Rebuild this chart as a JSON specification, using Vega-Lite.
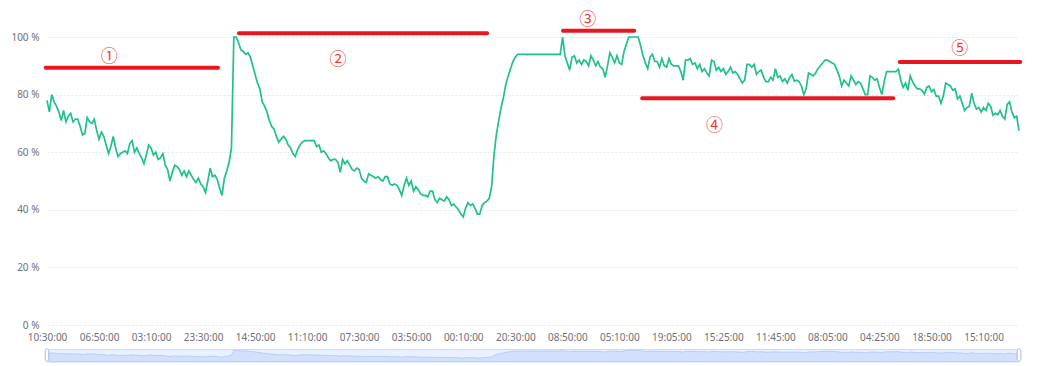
{
  "$schema": "https://vega.github.io/schema/vega-lite/v6.json",
  "background": "white",
  "padding": {"left": 10, "top": 11, "right": 5, "bottom": 5},
  "spacing": 24,
  "bounds": "flush",
  "config": {
    "view": {"stroke": null},
    "font": "Noto Sans",
    "axis": {"labelColor": "#6e7079", "labelFontSize": 10, "labelFont": "Noto Sans", "ticks": false, "domain": false, "title": null}
  },
  "datasets": {
    "main": [
      {"i":0,"v":78},{"i":1,"v":74},{"i":2,"v":80},{"i":3,"v":77.5},{"i":4,"v":76},{"i":5,"v":74},{"i":6,"v":71},{"i":7,"v":74.5},{"i":8,"v":70.5},{"i":9,"v":72.5},
      {"i":10,"v":73.5},{"i":11,"v":70.5},{"i":12,"v":71.5},{"i":13,"v":71.5},{"i":14,"v":69},{"i":15,"v":66},{"i":16,"v":66.5},{"i":17,"v":72},{"i":18,"v":70.5},{"i":19,"v":70},
      {"i":20,"v":71.5},{"i":21,"v":67.5},{"i":22,"v":64.5},{"i":23,"v":67},{"i":24,"v":65.5},{"i":25,"v":62.5},{"i":26,"v":59.5},{"i":27,"v":62},{"i":28,"v":65.5},{"i":29,"v":61.5},
      {"i":30,"v":58.5},{"i":31,"v":59.5},{"i":32,"v":60},{"i":33,"v":60.5},{"i":34,"v":59.5},{"i":35,"v":63},{"i":36,"v":64},{"i":37,"v":60},{"i":38,"v":61.5},{"i":39,"v":59.5},
      {"i":40,"v":58},{"i":41,"v":56},{"i":42,"v":59},{"i":43,"v":62.5},{"i":44,"v":61.5},{"i":45,"v":59},{"i":46,"v":60},{"i":47,"v":57.5},{"i":48,"v":58},{"i":49,"v":59.5},
      {"i":50,"v":55.5},{"i":51,"v":54},{"i":52,"v":50},{"i":53,"v":53},{"i":54,"v":55.5},{"i":55,"v":55},{"i":56,"v":54},{"i":57,"v":52},{"i":58,"v":53.5},{"i":59,"v":51.5},
      {"i":60,"v":53.5},{"i":61,"v":52},{"i":62,"v":50.5},{"i":63,"v":49.5},{"i":64,"v":51},{"i":65,"v":49},{"i":66,"v":48},{"i":67,"v":46},{"i":68,"v":50},{"i":69,"v":54.5},
      {"i":70,"v":51.5},{"i":71,"v":52},{"i":72,"v":50.5},{"i":73,"v":47.5},{"i":74,"v":45},{"i":75,"v":51},{"i":76,"v":53.5},{"i":77,"v":56.5},{"i":78,"v":61.5},{"i":79,"v":100},
      {"i":80,"v":100},{"i":81,"v":98},{"i":82,"v":95.5},{"i":83,"v":95},{"i":84,"v":94},{"i":85,"v":94.5},{"i":86,"v":93},{"i":87,"v":90},{"i":88,"v":87},{"i":89,"v":84},
      {"i":90,"v":82},{"i":91,"v":77.5},{"i":92,"v":76},{"i":93,"v":74},{"i":94,"v":71},{"i":95,"v":69},{"i":96,"v":68},{"i":97,"v":65.5},{"i":98,"v":63.5},{"i":99,"v":64.5},
      {"i":100,"v":65.5},{"i":101,"v":64.5},{"i":102,"v":62.5},{"i":103,"v":61.5},{"i":104,"v":59.5},{"i":105,"v":58.5},{"i":106,"v":61},{"i":107,"v":62.5},{"i":108,"v":63.5},{"i":109,"v":64},
      {"i":110,"v":64},{"i":111,"v":64},{"i":112,"v":64},{"i":113,"v":64},{"i":114,"v":62},{"i":115,"v":62.5},{"i":116,"v":60},{"i":117,"v":60.5},{"i":118,"v":59.5},{"i":119,"v":58},
      {"i":120,"v":57},{"i":121,"v":57.5},{"i":122,"v":57.5},{"i":123,"v":56.5},{"i":124,"v":53},{"i":125,"v":57.5},{"i":126,"v":56},{"i":127,"v":57},{"i":128,"v":55.5},{"i":129,"v":54},
      {"i":130,"v":53.5},{"i":131,"v":54.5},{"i":132,"v":54},{"i":133,"v":51},{"i":134,"v":50},{"i":135,"v":49.5},{"i":136,"v":52.5},{"i":137,"v":52},{"i":138,"v":51.5},{"i":139,"v":51},
      {"i":140,"v":51.5},{"i":141,"v":50.5},{"i":142,"v":50},{"i":143,"v":51.5},{"i":144,"v":51.5},{"i":145,"v":49},{"i":146,"v":48.5},{"i":147,"v":49},{"i":148,"v":48.5},{"i":149,"v":47},
      {"i":150,"v":45},{"i":151,"v":48.5},{"i":152,"v":51},{"i":153,"v":48.5},{"i":154,"v":50},{"i":155,"v":46.5},{"i":156,"v":48},{"i":157,"v":47},{"i":158,"v":45.5},{"i":159,"v":45},
      {"i":160,"v":45},{"i":161,"v":44.5},{"i":162,"v":46.5},{"i":163,"v":46.5},{"i":164,"v":43.5},{"i":165,"v":42.5},{"i":166,"v":44},{"i":167,"v":43.5},{"i":168,"v":43},{"i":169,"v":44.5},
      {"i":170,"v":43.5},{"i":171,"v":41.5},{"i":172,"v":42},{"i":173,"v":41},{"i":174,"v":40},{"i":175,"v":38.5},{"i":176,"v":37.5},{"i":177,"v":40.5},{"i":178,"v":42.5},{"i":179,"v":41.5},
      {"i":180,"v":42},{"i":181,"v":40.5},{"i":182,"v":38.5},{"i":183,"v":38.5},{"i":184,"v":41.5},{"i":185,"v":42.5},{"i":186,"v":43},{"i":187,"v":44},{"i":188,"v":48},{"i":189,"v":59},
      {"i":190,"v":66},{"i":191,"v":71},{"i":192,"v":75.5},{"i":193,"v":79},{"i":194,"v":83.5},{"i":195,"v":86.5},{"i":196,"v":89},{"i":197,"v":91.5},{"i":198,"v":93},{"i":199,"v":94},
      {"i":200,"v":94},{"i":201,"v":94},{"i":202,"v":94},{"i":203,"v":94},{"i":204,"v":94},{"i":205,"v":94},{"i":206,"v":94},{"i":207,"v":94},{"i":208,"v":94},{"i":209,"v":94},
      {"i":210,"v":94},{"i":211,"v":94},{"i":212,"v":94},{"i":213,"v":94},{"i":214,"v":94},{"i":215,"v":94},{"i":216,"v":94},{"i":217,"v":94},{"i":218,"v":100},{"i":219,"v":93.5},
      {"i":220,"v":91},{"i":221,"v":88.5},{"i":222,"v":93},{"i":223,"v":93.5},{"i":224,"v":91},{"i":225,"v":92},{"i":226,"v":90.5},{"i":227,"v":92},{"i":228,"v":91.5},{"i":229,"v":90},
      {"i":230,"v":93.5},{"i":231,"v":92},{"i":232,"v":90},{"i":233,"v":91.5},{"i":234,"v":89.5},{"i":235,"v":89},{"i":236,"v":86},{"i":237,"v":90},{"i":238,"v":94.5},{"i":239,"v":93},
      {"i":240,"v":91},{"i":241,"v":93.5},{"i":242,"v":91},{"i":243,"v":90.5},{"i":244,"v":95},{"i":245,"v":97.5},{"i":246,"v":100},{"i":247,"v":100},{"i":248,"v":100},{"i":249,"v":100},
      {"i":250,"v":100},{"i":251,"v":97},{"i":252,"v":93.5},{"i":253,"v":91},{"i":254,"v":89},{"i":255,"v":93},{"i":256,"v":94},{"i":257,"v":91.5},{"i":258,"v":91.5},{"i":259,"v":89.5},
      {"i":260,"v":92.5},{"i":261,"v":90},{"i":262,"v":89.5},{"i":263,"v":92.5},{"i":264,"v":90.5},{"i":265,"v":90},{"i":266,"v":90},{"i":267,"v":90},{"i":268,"v":88},{"i":269,"v":85},
      {"i":270,"v":92},{"i":271,"v":92},{"i":272,"v":92.5},{"i":273,"v":90.5},{"i":274,"v":91},{"i":275,"v":89},{"i":276,"v":90.5},{"i":277,"v":88},{"i":278,"v":89},{"i":279,"v":87.5},
      {"i":280,"v":86.5},{"i":281,"v":92},{"i":282,"v":91.5},{"i":283,"v":88.5},{"i":284,"v":89.5},{"i":285,"v":88},{"i":286,"v":89},{"i":287,"v":87},{"i":288,"v":88},{"i":289,"v":89.5},
      {"i":290,"v":87.5},{"i":291,"v":88},{"i":292,"v":87},{"i":293,"v":85.5},{"i":294,"v":84},{"i":295,"v":85},{"i":296,"v":90.5},{"i":297,"v":90.5},{"i":298,"v":89.5},{"i":299,"v":90.5},
      {"i":300,"v":87},{"i":301,"v":88},{"i":302,"v":88.5},{"i":303,"v":86},{"i":304,"v":84.5},{"i":305,"v":84.5},{"i":306,"v":86},{"i":307,"v":85},{"i":308,"v":89},{"i":309,"v":86},
      {"i":310,"v":86.5},{"i":311,"v":84.5},{"i":312,"v":85.5},{"i":313,"v":84},{"i":314,"v":86},{"i":315,"v":87},{"i":316,"v":84.7},{"i":317,"v":85},{"i":318,"v":84.5},{"i":319,"v":83},
      {"i":320,"v":80},{"i":321,"v":82},{"i":322,"v":87.5},{"i":323,"v":87},{"i":324,"v":86.5},{"i":325,"v":87.5},{"i":326,"v":89},{"i":327,"v":90},{"i":328,"v":91},{"i":329,"v":92},
      {"i":330,"v":92},{"i":331,"v":91.5},{"i":332,"v":91},{"i":333,"v":90.5},{"i":334,"v":88.5},{"i":335,"v":86.5},{"i":336,"v":83},{"i":337,"v":85},{"i":338,"v":84},{"i":339,"v":83},
      {"i":340,"v":86.5},{"i":341,"v":85},{"i":342,"v":83.5},{"i":343,"v":84.5},{"i":344,"v":84},{"i":345,"v":82},{"i":346,"v":80},{"i":347,"v":80},{"i":348,"v":86.5},{"i":349,"v":86},
      {"i":350,"v":85},{"i":351,"v":85.5},{"i":352,"v":82.5},{"i":353,"v":80},{"i":354,"v":84.5},{"i":355,"v":88},{"i":356,"v":88},{"i":357,"v":88},{"i":358,"v":88},{"i":359,"v":88},
      {"i":360,"v":88.8},{"i":361,"v":85},{"i":362,"v":82.5},{"i":363,"v":84},{"i":364,"v":81.5},{"i":365,"v":86.5},{"i":366,"v":84.5},{"i":367,"v":83},{"i":368,"v":82},{"i":369,"v":82},
      {"i":370,"v":81.5},{"i":371,"v":80.2},{"i":372,"v":82.5},{"i":373,"v":83},{"i":374,"v":81},{"i":375,"v":81.8},{"i":376,"v":79.5},{"i":377,"v":79.5},{"i":378,"v":77},{"i":379,"v":79.5},
      {"i":380,"v":84},{"i":381,"v":83.5},{"i":382,"v":83},{"i":383,"v":81.5},{"i":384,"v":82},{"i":385,"v":78.5},{"i":386,"v":79.5},{"i":387,"v":77},{"i":388,"v":74.5},{"i":389,"v":75.5},
      {"i":390,"v":76},{"i":391,"v":80.5},{"i":392,"v":77},{"i":393,"v":75},{"i":394,"v":75.5},{"i":395,"v":74},{"i":396,"v":75.5},{"i":397,"v":74.5},{"i":398,"v":77},{"i":399,"v":76},
      {"i":400,"v":72.8},{"i":401,"v":73.5},{"i":402,"v":73},{"i":403,"v":74.5},{"i":404,"v":72.5},{"i":405,"v":71.5},{"i":406,"v":76.5},{"i":407,"v":77.5},{"i":408,"v":74},{"i":409,"v":72},
      {"i":410,"v":72.5},{"i":411,"v":67.5}
    ],
    "bars": [
      {"start": -0.55, "end": 72.3, "level": 89.3},
      {"start": 81.2, "end": 186.1, "level": 101.3},
      {"start": 218.2, "end": 248.3, "level": 102.2},
      {"start": 251.7, "end": 357.8, "level": 78.7},
      {"start": 360.6, "end": 411.5, "level": 91.3}
    ],
    "notes": [
      {"i": 26.3, "v": 93.1, "label": "①"},
      {"i": 123.0, "v": 92.0, "label": "②"},
      {"i": 228.7, "v": 105.9, "label": "③"},
      {"i": 282.2, "v": 69.1, "label": "④"},
      {"i": 385.9, "v": 95.7, "label": "⑤"}
    ],
    "handles": [{"i": 0}, {"i": 411}]
  },
  "vconcat": [
    {
      "width": 972,
      "height": 288,
      "layer": [
        {
          "data": {"name": "main"},
          "mark": {"type": "line", "color": "#1ec08c", "strokeWidth": 1.7},
          "encoding": {
            "x": {"field": "i", "type": "quantitative", "title": null,
              "scale": {"domain": [0, 411], "nice": false, "zero": false},
              "axis": {"values": [0,22,44,66,88,110,132,154,176,198,220,242,264,286,308,330,352,374,396],
                "labelExpr": "['10:30:00','06:50:00','03:10:00','23:30:00','14:50:00','11:10:00','07:30:00','03:50:00','00:10:00','20:30:00','08:50:00','05:10:00','19:05:00','15:25:00','11:45:00','08:05:00','04:25:00','18:50:00','15:10:00'][round(datum.value/22)]",
                "grid": false, "labelPadding": 7, "labelFlush": false, "labelOverlap": false}},
            "y": {"field": "v", "type": "quantitative", "title": null,
              "scale": {"domain": [0, 100], "nice": false},
              "axis": {"values": [0,20,40,60,80,100], "labelExpr": "datum.value + ' %'", "grid": true,
                "gridColor": "#e0e6f1", "gridDash": [2, 2], "labelPadding": 8}}
          }
        },
        {
          "data": {"name": "bars"},
          "mark": {"type": "rule", "color": "#e8171f", "strokeWidth": 4, "strokeCap": "round"},
          "encoding": {
            "x": {"field": "start", "type": "quantitative", "title": null},
            "x2": {"field": "end"},
            "y": {"field": "level", "type": "quantitative", "title": null}
          }
        },
        {
          "data": {"name": "notes"},
          "mark": {"type": "text", "font": "Noto Sans CJK SC", "fontSize": 17, "color": "#f03a3a", "baseline": "middle", "align": "center"},
          "encoding": {
            "x": {"field": "i", "type": "quantitative", "title": null},
            "y": {"field": "v", "type": "quantitative", "title": null},
            "text": {"field": "label"}
          }
        }
      ]
    },
    {
      "width": 972,
      "height": 12,
      "view": {"fill": "#e9f0ff", "stroke": "#d2dbee", "cornerRadius": 3},
      "layer": [
        {
          "data": {"name": "main"},
          "mark": {"type": "area", "color": "#8fb0f7", "opacity": 0.25, "line": {"color": "#8fb0f7", "strokeWidth": 0.6, "opacity": 0.8}},
          "encoding": {
            "x": {"field": "i", "type": "quantitative", "scale": {"domain": [0, 411], "nice": false, "zero": false}, "axis": null},
            "y": {"field": "v", "type": "quantitative", "scale": {"domain": [15, 110], "nice": false, "zero": false}, "axis": null}
          }
        },
        {
          "data": {"name": "handles"},
          "mark": {"type": "point", "filled": true, "fill": "#ffffff", "stroke": "#acb8d1", "strokeWidth": 1, "opacity": 1, "size": 144,
            "shape": "M-0.3,-0.75 A0.3,0.3 0 0 1 0.3,-0.75 L0.3,0.75 A0.3,0.3 0 0 1 -0.3,0.75 Z"},
          "encoding": {
            "x": {"field": "i", "type": "quantitative", "axis": null}
          }
        }
      ]
    }
  ]
}
